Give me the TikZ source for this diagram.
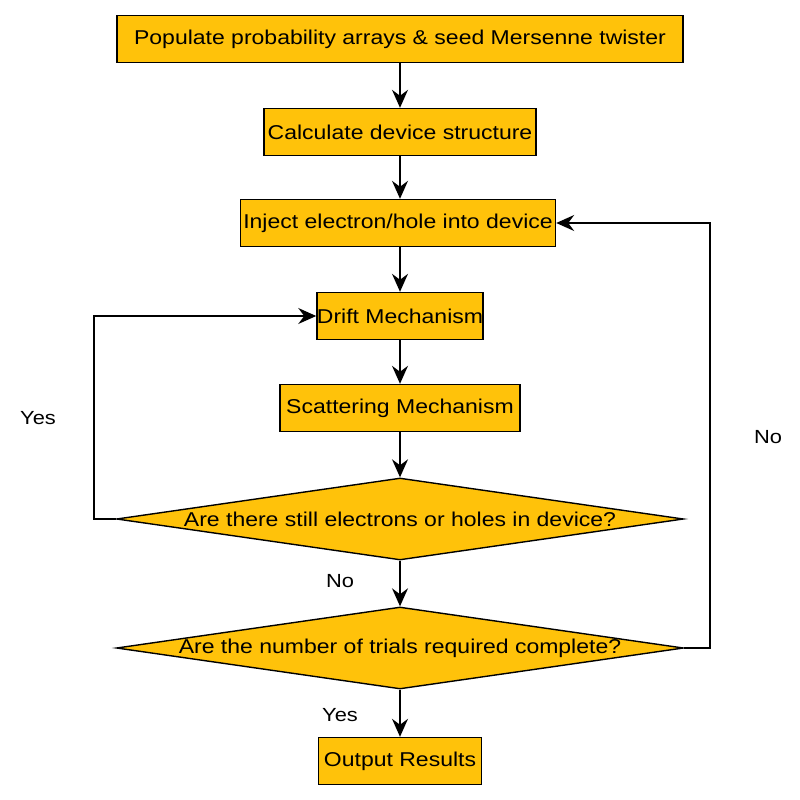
\documentclass[tikz,border=0pt]{standalone}
\usepackage{fontspec}
\setmainfont{Liberation Sans}[FakeStretch = 1.15]
\usepackage{tikz}
\usetikzlibrary{arrows.meta}
\usetikzlibrary{shapes.geometric}
\definecolor{flowgold}{RGB}{255,194,10}
\tikzset{proc/.style = {draw, fill = flowgold, line width = 1.4pt, inner sep = 0,
                        minimum height = 47pt, font = \fontsize{20}{24}\selectfont},
         dec/.style = {draw, fill = flowgold, diamond, line width = 1.4pt, inner sep = 0,
                       minimum width = 567pt, minimum height = 82pt,
                       font = \fontsize{20}{24}\selectfont},
         lbl/.style = {font = \fontsize{19}{23}\selectfont},
         arr/.style = {line width = 1.4pt, -{Stealth[length = 18pt, width = 16pt, inset = 6pt]}}}

\begin{document}
\begin{tikzpicture}[x = 1pt, y = -1pt]
      \useasboundingbox (0, 0) rectangle (800, 800);

      \node [proc, minimum width = 566pt] (populate) at (400, 39) {Populate probability arrays \& seed Mersenne twister};
      \node [proc, minimum width = 272pt] (calc) at (400, 132) {Calculate device structure};
      \node [proc, minimum width = 315pt] (inject) at (398, 223) {Inject electron/hole into device};
      \node [proc, minimum width = 163pt] (drift) at (400, 316) {Drift Mechanism};
      \node [proc, minimum width = 240pt] (scatter) at (400, 408) {Scattering Mechanism};
      \node [dec] (still) at (400, 519) {\makebox[0pt]{Are there still electrons or holes in device?}};
      \node [dec] (trials) at (400, 648) {\makebox[0pt]{Are the number of trials required complete?}};
      \node [proc, minimum width = 163pt] (output) at (400, 761) {Output Results};

      \draw [arr] (populate) -- (calc);
      \draw [arr] (calc) -- (calc |- inject.north);
      \draw [arr] (calc |- inject.south) -- (drift);
      \draw [arr] (drift) -- (scatter);
      \draw [arr] (scatter) -- (still);
      \draw [arr] (still) -- (trials);
      \draw [arr] (trials) -- (output);

      % loop back to drift
      \coordinate (yesbend) at (94, 519);
      \draw [arr] (still.west) -- (yesbend) |- (drift.west);
      \node [lbl] (yesleft) at (38, 418) {Yes};

      % loop back to inject
      \coordinate (nobend) at (710, 648);
      \draw [arr] (trials.east) -- (nobend) |- (inject.east);
      \node [lbl] (noright) at (768, 437) {No};

      \node [lbl] (nomid) at (340, 581) {No};
      \node [lbl] (yesmid) at (340, 715) {Yes};
    \end{tikzpicture}
\end{document}
